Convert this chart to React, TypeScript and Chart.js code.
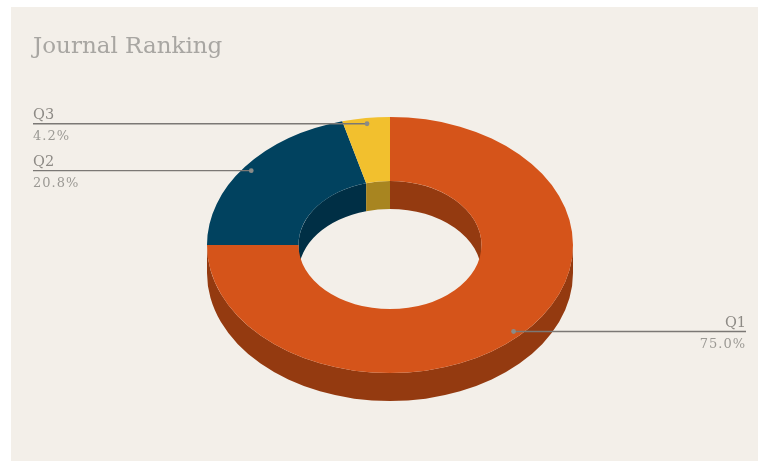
import React, { useEffect, useRef } from "react";
import { Chart, registerables } from "chart.js";

Chart.register(...registerables);

const categories = ["Q1", "Q2", "Q3"];
const shares = [75.0, 20.8, 4.2];
const topColors = ["#d5541a", "#01425f", "#f2c02e"];
const wallColors = ["#943a10", "#002f45", "#a88520"];

const CENTER_Y = 245;
const Y_SQUASH = 0.7;
const DEPTH = 28;
const LEFT_EDGE = 33;
const RIGHT_EDGE = 746;
const LABEL_FONT = '14.5px "DejaVu Serif", serif';
const VALUE_FONT = '13px "DejaVu Serif", serif';

function tilt(ctx: CanvasRenderingContext2D, cy: number) {
  ctx.translate(0, CENTER_Y);
  ctx.scale(1, Y_SQUASH);
  ctx.translate(0, -cy);
}

function wall(
  ctx: CanvasRenderingContext2D,
  x: number,
  r: number,
  from: number,
  to: number,
  color: string
) {
  if (to <= from) return;
  const ry = r * Y_SQUASH;
  ctx.beginPath();
  ctx.ellipse(x, CENTER_Y + DEPTH, r, ry, 0, from, to);
  ctx.ellipse(x, CENTER_Y, r, ry, 0, to, from, true);
  ctx.closePath();
  ctx.fillStyle = color;
  ctx.fill();
}

const donut3d = {
  id: "donut3d",
  beforeDatasetsDraw(chart: any) {
    const ctx: CanvasRenderingContext2D = chart.ctx;
    const arcs = chart.getDatasetMeta(0).data;
    arcs.forEach((arc: any, i: number) => {
      const c = wallColors[i];
      const s = arc.startAngle;
      const e = arc.endAngle;
      // outer wall shows on the near half, inner wall on the far half
      wall(ctx, arc.x, arc.outerRadius, Math.max(s, 0), Math.min(e, Math.PI), c);
      wall(ctx, arc.x, arc.innerRadius, Math.max(s, -Math.PI), Math.min(e, 0), c);
      wall(ctx, arc.x, arc.innerRadius, Math.max(s, Math.PI), Math.min(e, 2 * Math.PI), c);
    });
    ctx.save();
    tilt(ctx, arcs[0].y);
  },
  afterDatasetsDraw(chart: any) {
    const ctx: CanvasRenderingContext2D = chart.ctx;
    ctx.restore();
    const arcs = chart.getDatasetMeta(0).data;
    arcs.forEach((arc: any, i: number) => {
      const mid = (arc.startAngle + arc.endAngle) / 2;
      const r = arc.outerRadius * 0.955;
      const x = arc.x + Math.cos(mid) * r;
      const y = CENTER_Y + Math.sin(mid) * r * Y_SQUASH;
      const onRight = x > arc.x;
      const edge = onRight ? RIGHT_EDGE : LEFT_EDGE;

      ctx.beginPath();
      ctx.moveTo(edge, y);
      ctx.lineTo(x, y);
      ctx.strokeStyle = "#7b7875";
      ctx.lineWidth = 1.4;
      ctx.stroke();

      ctx.beginPath();
      ctx.arc(x, y, 2.4, 0, Math.PI * 2);
      ctx.fillStyle = "#8b8b88";
      ctx.fill();

      ctx.textAlign = onRight ? "right" : "left";
      ctx.textBaseline = "alphabetic";
      (ctx as any).letterSpacing = "0px";
      ctx.font = LABEL_FONT;
      ctx.fillStyle = "#8d8a85";
      ctx.fillText(categories[i], edge, y - 5);
      (ctx as any).letterSpacing = "1px";
      ctx.font = VALUE_FONT;
      ctx.fillStyle = "#9b9994";
      ctx.fillText(shares[i].toFixed(1) + "%", edge, y + 16);
      (ctx as any).letterSpacing = "0px";
    });
  },
};

export default function App() {
  const ref = useRef<HTMLCanvasElement>(null);
  useEffect(() => {
    const chart = new Chart(ref.current!, {
      type: "doughnut",
      data: {
        labels: categories,
        datasets: [
          {
            data: shares,
            backgroundColor: topColors,
            borderWidth: 0,
            clip: false,
          } as any,
        ],
      },
      options: {
        responsive: false,
        animation: false,
        radius: 183,
        cutout: "50%",
        layout: { padding: { left: 33, right: 12, top: 0, bottom: 0 } },
        plugins: {
          legend: { display: false },
          tooltip: { enabled: false },
          title: {
            display: true,
            text: "Journal Ranking",
            align: "start",
            color: "#a8a6a2",
            font: { family: '"DejaVu Serif", serif', size: 23, weight: "normal" },
            padding: { top: 33, bottom: 10 },
          },
        },
      } as any,
      plugins: [donut3d],
    });
    return () => chart.destroy();
  }, []);
  return (
    <div style={{ position: "absolute", left: 0, top: 0, width: 759, height: 461, background: "#ffffff", overflow: "hidden" }}>
      <div style={{ position: "absolute", left: 11, top: 7, width: 747, height: 454, background: "#f3efe9" }} />
      <canvas ref={ref} width={759} height={461} style={{ position: "absolute", left: 0, top: 0, width: 759, height: 461 }} />
    </div>
  );
}
